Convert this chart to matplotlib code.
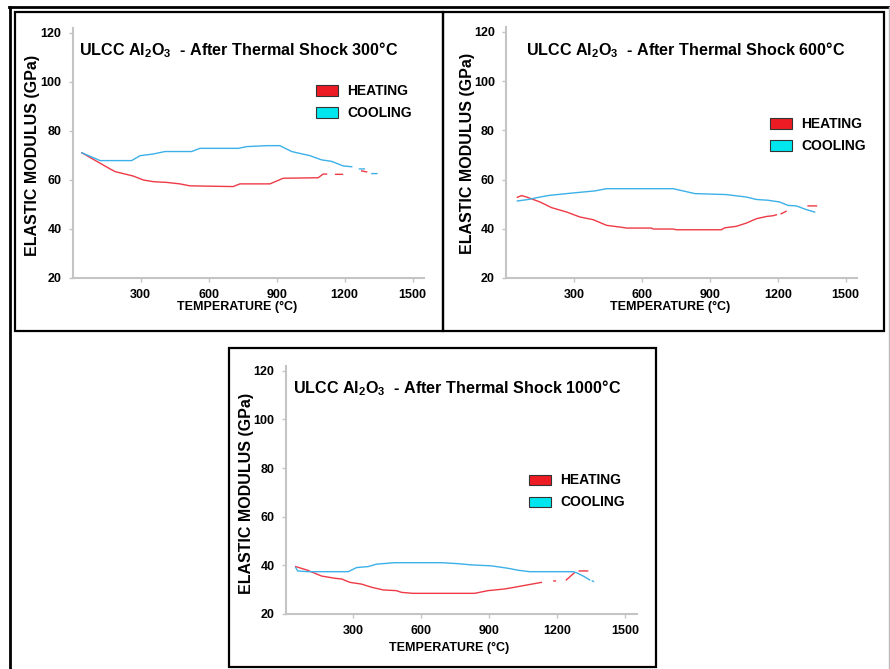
import numpy as np
import matplotlib
matplotlib.use("Agg")
import matplotlib.pyplot as plt
from matplotlib.patches import Rectangle
from matplotlib.lines import Line2D

nan = np.nan
W, H = 890, 669

SHOCKS = ["300", "600", "1000"]

# 300 C shock
temp_heat_300 = [40, 165, 187, 267, 311, 356, 415, 473, 517, 708, 738, 870, 929, 1083, 1105, 1120, nan, 1160, 1190, nan, 1275, 1297]
mod_heat_300 = [71.1, 64.5, 63.4, 61.6, 60.0, 59.3, 59.0, 58.4, 57.6, 57.3, 58.4, 58.4, 60.7, 60.9, 62.4, 62.4, nan, 62.3, 62.3, nan, 63.7, 63.3]
temp_cool_300 = [40, 121, 260, 297, 356, 407, 525, 561, 731, 767, 856, 914, 966, 1047, 1098, 1142, 1194, 1231, nan, 1265, 1287, nan, 1320, 1342]
mod_cool_300 = [71.1, 67.9, 67.9, 69.9, 70.6, 71.6, 71.6, 72.9, 72.9, 73.6, 74.0, 74.0, 71.6, 69.9, 68.2, 67.6, 65.7, 65.4, nan, 64.5, 64.5, nan, 62.6, 62.6]

# 600 C shock
temp_heat_600 = [50, 69, 91, 150, 201, 268, 326, 385, 444, 503, 532, 642, 650, 738, 753, 951, 966, 1017, 1061, 1106, 1150, 1179, 1194, nan, 1215, 1237, nan, 1334, 1371]
mod_heat_600 = [52.8, 53.5, 52.9, 50.9, 48.6, 46.8, 44.8, 43.7, 41.4, 40.7, 40.3, 40.3, 39.9, 39.9, 39.6, 39.6, 40.4, 41.0, 42.3, 44.1, 45.0, 45.3, 45.7, nan, 46.1, 47.1, nan, 49.3, 49.3]
temp_cool_600 = [50, 98, 150, 194, 290, 393, 444, 738, 834, 973, 1061, 1106, 1157, 1208, 1245, 1282, 1326, 1363]
mod_cool_600 = [51.3, 51.9, 52.9, 53.6, 54.5, 55.4, 56.3, 56.3, 54.3, 53.9, 52.9, 51.9, 51.6, 50.9, 49.5, 49.3, 47.8, 46.8]

# 1000 C shock
temp_heat_1000 = [45, 94, 160, 218, 248, 285, 336, 380, 431, 490, 512, 563, 835, 894, 968, 1012, 1064, 1130, nan, 1185, 1192, nan, 1240, 1276, nan, 1297, 1334]
mod_heat_1000 = [39.5, 38.1, 35.6, 34.7, 34.4, 33.0, 32.3, 31.0, 29.9, 29.6, 28.9, 28.5, 28.5, 29.6, 30.3, 31.0, 31.9, 33.0, nan, 33.6, 33.6, nan, 34.0, 37.0, nan, 37.7, 37.7]
temp_cool_1000 = [45, 54, 101, 277, 314, 365, 402, 482, 689, 762, 821, 909, 983, 1027, 1079, 1270, 1285, 1321, 1343, nan, 1355, 1360]
mod_cool_1000 = [39.1, 37.7, 37.4, 37.4, 39.1, 39.5, 40.5, 41.1, 41.1, 40.7, 40.2, 39.8, 38.8, 38.0, 37.4, 37.4, 37.0, 35.3, 34.0, nan, 33.6, 33.4]

X_TICKS = [300, 600, 900, 1200, 1500]
Y_TICKS = [20, 40, 60, 80, 100, 120]

RED_LINE = "#ee3a46"
BLUE_LINE = "#3cb0e8"
RED_PATCH = "#ed1c24"
CYAN_PATCH = "#00e6ee"
SPINE = "#c4c4c4"

plt.rcParams["font.family"] = ["Liberation Sans", "DejaVu Sans"]
plt.rcParams["font.weight"] = "bold"
plt.rcParams["mathtext.fontset"] = "custom"
plt.rcParams["mathtext.bf"] = "Liberation Sans:bold"
plt.rcParams["mathtext.rm"] = "Liberation Sans:bold"


def fx(x):
    return x / W


def fy(y):
    return 1 - y / H


def box(fig, x0, y0, x1, y1, lw=1.6, color="black"):
    fig.patches.append(Rectangle((fx(x0), fy(y1)), fx(x1 - x0), (y1 - y0) / H,
                                 fill=False, lw=lw, edgecolor=color,
                                 transform=fig.transFigure))


def panel(fig, rect, heat, cool, shock, title_xy, legend_xy, ylab_xy, xlab_xy):
    # rect = left, top, right, bottom in pixels
    l, t, r, b = rect
    ax = fig.add_axes([fx(l), fy(b), fx(r - l), (b - t) / H])
    ax.plot(heat[0], heat[1], color=RED_LINE, lw=1.0)
    ax.plot(cool[0], cool[1], color=BLUE_LINE, lw=1.0)
    ax.set_xlim(0, 1550)
    ax.set_ylim(20, 122)
    ax.set_xticks(X_TICKS)
    ax.set_yticks(Y_TICKS)
    ax.tick_params(labelsize=9, length=3, width=1, color=SPINE, pad=5)
    for s in ["top", "right"]:
        ax.spines[s].set_visible(False)
    for s in ["left", "bottom"]:
        ax.spines[s].set_color(SPINE)
        ax.spines[s].set_linewidth(1.5)
    ax.patch.set_alpha(0)

    fig.text(fx(title_xy[0]), fy(title_xy[1]),
             r"ULCC Al$\mathbf{_2}$O$\mathbf{_3}$  - After Thermal Shock " + shock + "\u00b0C",
             fontsize=11.6, ha="left", va="center")
    lx, ly = legend_xy
    for i, (lab, col) in enumerate([("HEATING", RED_PATCH), ("COOLING", CYAN_PATCH)]):
        yy = ly + i * 22
        fig.patches.append(Rectangle((fx(lx), fy(yy + 5)), 22 / W, 10.5 / H,
                                     facecolor=col, edgecolor="#333333", lw=0.8,
                                     transform=fig.transFigure))
        fig.text(fx(lx + 31), fy(yy), lab, fontsize=10, ha="left", va="center")
    fig.text(fx(ylab_xy[0]), fy(ylab_xy[1]), "ELASTIC MODULUS (GPa)",
             fontsize=11.5, rotation=90, ha="center", va="center")
    fig.text(fx(xlab_xy[0]), fy(xlab_xy[1]), "TEMPERATURE (\u00b0C)",
             fontsize=9, ha="center", va="center")
    return ax


fig = plt.figure(figsize=(W / 100, H / 100), dpi=100)

# outer frame
fig.add_artist(Line2D([fx(9), fx(889)], [fy(7), fy(7)], color="black", lw=2, transform=fig.transFigure))
fig.add_artist(Line2D([fx(10), fx(10)], [fy(7), fy(669)], color="black", lw=2, transform=fig.transFigure))
fig.add_artist(Line2D([fx(888.5), fx(888.5)], [fy(7), fy(669)], color="#bbbbbb", lw=1, transform=fig.transFigure))

box(fig, 15, 12, 443, 331)
box(fig, 443, 12, 884, 331)
box(fig, 229, 348, 656, 667)

panel(fig, (72.7, 28, 424, 278), (temp_heat_300, mod_heat_300), (temp_cool_300, mod_cool_300),
      SHOCKS[0], (79, 50), (316, 91), (33, 155), (237, 307))
panel(fig, (506, 27, 857, 278), (temp_heat_600, mod_heat_600), (temp_cool_600, mod_cool_600),
      SHOCKS[1], (526, 50), (770, 124), (467, 153), (670, 307))
panel(fig, (285.5, 366, 636.5, 614), (temp_heat_1000, mod_heat_1000), (temp_cool_1000, mod_cool_1000),
      SHOCKS[2], (293, 388), (529, 480), (247, 493), (449, 648))

fig.savefig("out.png", dpi=100)
